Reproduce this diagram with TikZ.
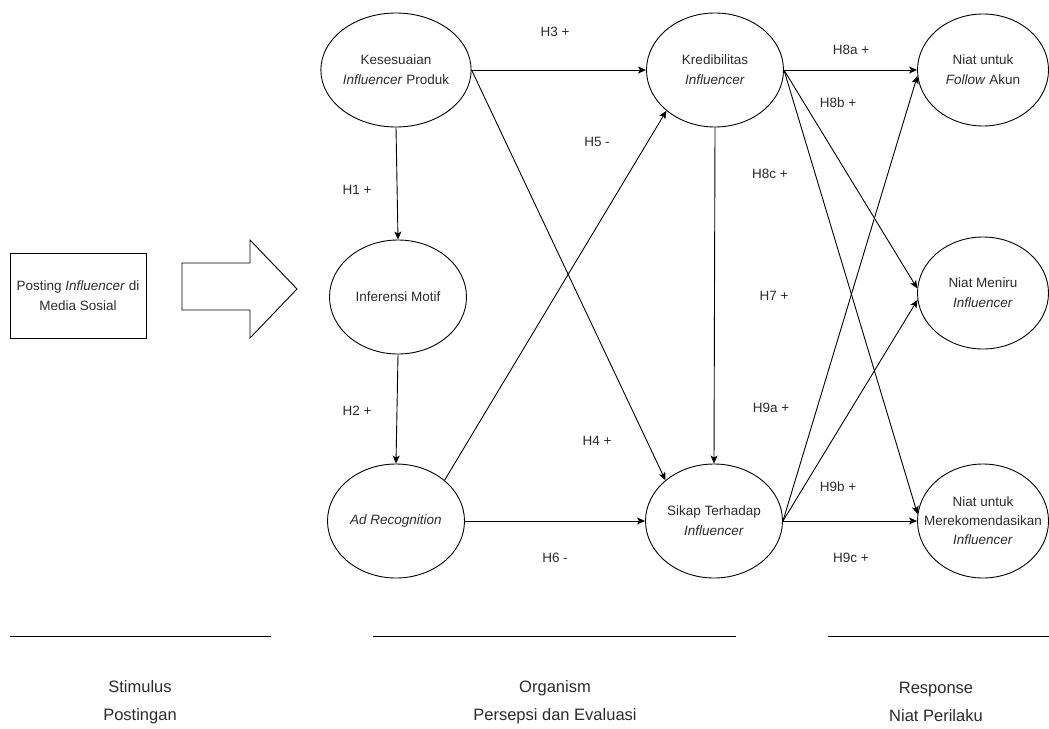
\documentclass[tikz,border=0pt]{standalone}
\usepackage{fontspec}
\setmainfont{Liberation Sans}
\usepackage{tikz}
\usetikzlibrary{arrows.meta,shapes.geometric}

\definecolor{teks}{HTML}{2B2B2B}

\begin{document}
\begin{tikzpicture}[x=1pt,y=-1pt,
    konstruk/.style={draw,ellipse,line width=0.9pt,minimum width=137pt,minimum height=114pt,
        inner sep=0pt,align=center,text=teks,font=\fontsize{13.5pt}{20pt}\selectfont},
    hip/.style={text=teks,font=\fontsize{13.5pt}{16pt}\selectfont},
    fase/.style={text=teks,align=center,font=\fontsize{16.5pt}{28pt}\selectfont},
    panah/.style={draw,line width=0.9pt,-{Stealth[length=8pt,width=7pt,inset=2pt]}}]

\useasboundingbox (0,0) rectangle (1049,728);

% Stimulus
\node[draw,line width=0.9pt,minimum width=136pt,minimum height=85pt,align=center,text=teks,
    font=\fontsize{13.5pt}{20pt}\selectfont] (post) at (78,295.5) {Posting \textit{Influencer} di\\Media Sosial};
\draw[line width=0.9pt,fill=white] (182,263) -- (250,263) -- (250,240) -- (297,289)
    -- (250,338) -- (250,310) -- (182,310) -- cycle;

% Organism
\node[konstruk] (kes) at (396,70) {Kesesuaian\\\textit{Influencer} Produk};
\node[konstruk] (inf) at (398,297) {Inferensi Motif};
\node[konstruk] (adr) at (396,521) {\textit{Ad Recognition}};
\node[konstruk] (kred) at (715,70) {Kredibilitas\\\textit{Influencer}};
\node[konstruk] (sik) at (714,521) {Sikap Terhadap\\\textit{Influencer}};

% Response
\node[konstruk,minimum width=131pt,minimum height=112pt] (follow) at (983,70) {Niat untuk\\\textit{Follow} Akun};
\node[konstruk,minimum width=131pt,minimum height=112pt] (meniru) at (983,293) {Niat Meniru\\\textit{Influencer}};
\node[konstruk,minimum width=131pt,minimum height=114pt,inner xsep=-16pt,
    font=\fontsize{13.5pt}{19pt}\selectfont]
    (rekom) at (983,521) {Niat untuk\\Merekomendasikan\\\textit{Influencer}};

% Hipotesis
\draw[panah] (kes.south) -- (inf.north);
\draw[panah] (inf.south) -- (adr.north);
\draw[panah] (kes.east) -- (kred.west);
\draw[panah] (kes.east) -- (sik.140);
\draw[panah] (adr.40) -- (kred.220);
\draw[panah] (adr.east) -- (sik.west);
\draw[panah] (kred.south) -- (sik.north);
\draw[panah] (kred.east) -- (follow.west);
\draw[panah] (kred.east) -- (meniru.176);
\draw[panah] (kred.east) -- (rekom.174);
\draw[panah] (sik.east) -- (follow.185);
\draw[panah] (sik.east) -- (meniru.186);
\draw[panah] (sik.east) -- (rekom.west);

\node[hip] (h1) at (357,190) {H1 +};
\node[hip] (h2) at (357,411) {H2 +};
\node[hip] (h3) at (555,32) {H3 +};
\node[hip] (h4) at (597,441) {H4 +};
\node[hip] (h5) at (597,142) {H5 -};
\node[hip] (h6) at (555,558) {H6 -};
\node[hip] (h7) at (774,296) {H7 +};
\node[hip] (h8a) at (851,50) {H8a +};
\node[hip] (h8b) at (838,103) {H8b +};
\node[hip] (h8c) at (770,174) {H8c +};
\node[hip] (h9a) at (771,408) {H9a +};
\node[hip] (h9b) at (838,487) {H9b +};
\node[hip] (h9c) at (851,558) {H9c +};

% Fase S-O-R
\draw[line width=0.9pt] (10,636) -- (271,636);
\draw[line width=0.9pt] (373,636) -- (736,636);
\draw[line width=0.9pt] (828,636) -- (1049,636);
\node[fase] (stim) at (140,702) {Stimulus\\Postingan};
\node[fase] (org) at (555,702) {Organism\\Persepsi dan Evaluasi};
\node[fase] (resp) at (936,702) {Response\\Niat Perilaku};

\end{tikzpicture}
\end{document}
